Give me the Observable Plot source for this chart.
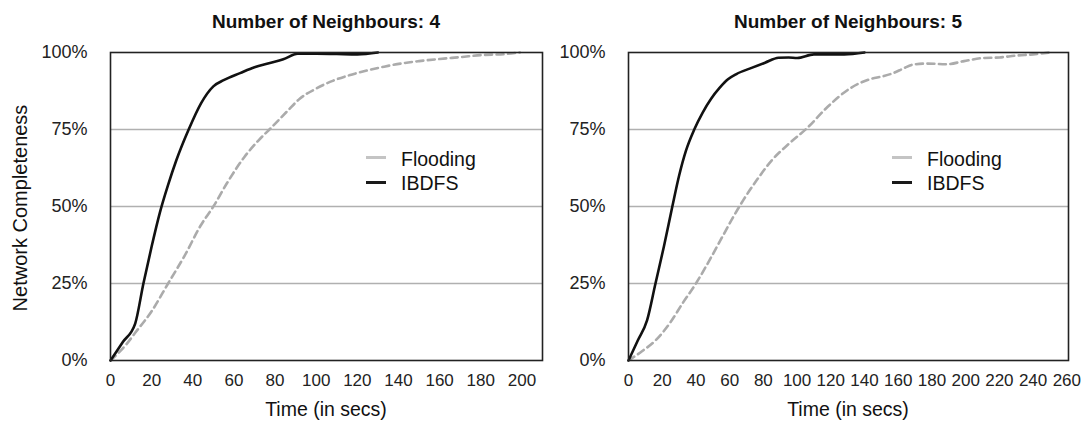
<!DOCTYPE html>
<html>
<head>
<meta charset="utf-8">
<script src="https://cdn.jsdelivr.net/npm/d3@7"></script>
<script src="https://cdn.jsdelivr.net/npm/@observablehq/plot@0.6"></script>
<style>
  html, body { margin: 0; padding: 0; background: #fff; }
  #wrap { position: relative; width: 1089px; height: 423px; font-family: "Liberation Sans", Arial, Helvetica, sans-serif; color: #111; }
  .abs { position: absolute; white-space: nowrap; }
  .title { font-weight: bold; font-size: 19px; line-height: 19px; text-align: center; width: 400px; }
  .xlab { font-size: 19.5px; line-height: 19.5px; text-align: center; width: 400px; }
  .ylab { font-size: 20px; line-height: 24px; height: 24px; text-align: center; width: 300px; transform: rotate(-90deg); }
  .legtext { font-size: 19.5px; line-height: 19.5px; }
  .sw { height: 3px; width: 20px; }
</style>
</head>
<body>
<div id="wrap"></div>
<script>
// ---- Data ----
const panelTitles = ["Number of Neighbours: 4", "Number of Neighbours: 5"];
const seriesNames = ["Flooding", "IBDFS"];
const yTicks = [0, 25, 50, 75, 100];
const xTicks4 = [0, 20, 40, 60, 80, 100, 120, 140, 160, 180, 200];
const xTicks5 = [0, 20, 40, 60, 80, 100, 120, 140, 160, 180, 200, 220, 240, 260];
const xMax4 = 210;
const xMax5 = 261;

// Neighbours: 4
const floodT4 = [0, 8, 12, 20, 28, 36, 44, 50, 57, 65, 72, 78, 86, 92, 100, 108, 116, 125, 133, 141, 150, 160, 170, 181, 192, 199];
const floodV4 = [0, 5.5, 9, 16, 25, 34, 44, 50, 58, 66, 71.5, 75.5, 81, 85, 88.3, 90.8, 92.6, 94.2, 95.4, 96.4, 97.2, 97.9, 98.5, 99.2, 99.5, 100];
const ibdfsT4 = [0, 6, 12, 16, 20, 24, 28, 32, 38, 44, 50, 55, 63, 70, 77, 84, 91, 100, 110, 120, 130];
const ibdfsV4 = [0, 6, 12, 25, 37, 48, 57, 65, 75, 83.5, 89, 91, 93.3, 95.2, 96.5, 97.8, 99.6, 99.6, 99.5, 99.4, 100];

// Neighbours: 5
const floodT5 = [0, 8, 16, 25, 32, 40, 48, 56, 62, 68, 76, 85, 95, 106, 118, 131, 143, 151, 157, 163, 169, 177, 189, 199, 210, 220, 230, 240, 250];
const floodV5 = [0, 3, 6.5, 12.5, 18.5, 25, 32.5, 40.5, 46.5, 52, 58.5, 65, 70.3, 75.5, 82.3, 88.2, 91.3, 92.3, 93.3, 94.8, 96.1, 96.4, 96.2, 97.2, 98.2, 98.4, 99, 99.4, 100];
const ibdfsT5 = [0, 5.5, 11, 16, 21, 26, 30, 34, 39, 44, 49, 54, 59, 64, 73, 81, 89, 95, 100, 110, 128, 140];
const ibdfsV5 = [0, 6.5, 13, 25, 37, 50, 60, 68, 75, 80.5, 85, 88.5, 91.3, 93, 95, 96.7, 98.3, 98.4, 98.2, 99.4, 99.4, 100];

const toRows = (ts, vs) => ts.map((t, i) => ({t, v: vs[i]}));

const panels = [
  {title: panelTitles[0], flood: toRows(floodT4, floodV4), ibdfs: toRows(ibdfsT4, ibdfsV4), xTicks: xTicks4, xMax: xMax4,
   left: 0, width: 545, marginLeft: 110, marginRight: 3},
  {title: panelTitles[1], flood: toRows(floodT5, floodV5), ibdfs: toRows(ibdfsT5, ibdfsV5), xTicks: xTicks5, xMax: xMax5,
   left: 545, width: 544, marginLeft: 83, marginRight: 21}
];

const H = 423, MT = 52, MB = 63;
const wrap = document.getElementById("wrap");

function add(cls, text, css) {
  const d = document.createElement("div");
  d.className = "abs " + cls;
  if (text != null) d.textContent = text;
  Object.assign(d.style, css);
  wrap.appendChild(d);
  return d;
}

panels.forEach((p, idx) => {
  const chart = Plot.plot({
    width: p.width,
    height: H,
    marginLeft: p.marginLeft,
    marginRight: p.marginRight,
    marginTop: MT,
    marginBottom: MB,
    style: {fontFamily: "'Liberation Sans', Arial, Helvetica, sans-serif", color: "#222", background: "transparent", overflow: "visible"},
    x: {domain: [0, p.xMax]},
    y: {domain: [0, 100]},
    marks: [
      Plot.ruleY(yTicks.filter(d => d > 0 && d < 100), {stroke: "#b0b0b0", strokeWidth: 1.3}),
      Plot.axisY({ticks: yTicks, tickSize: 0, tickPadding: 23, tickFormat: d => d + "%", label: null, fontSize: 18}),
      Plot.axisX({ticks: p.xTicks, tickSize: 0, tickPadding: 13, tickFormat: d => String(d), label: null, fontSize: 17}),
      Plot.line(p.flood, {x: "t", y: "v", stroke: "#ababab", strokeWidth: 2.6, strokeDasharray: "7,4.5", curve: "monotone-x"}),
      Plot.line(p.ibdfs, {x: "t", y: "v", stroke: "#111", strokeWidth: 2.6, curve: "monotone-x"}),
      Plot.frame({stroke: "#222", strokeWidth: 1.6})
    ]
  });
  chart.style.position = "absolute";
  chart.style.left = p.left + "px";
  chart.style.top = "0px";
  wrap.appendChild(chart);

  const fl = p.left + p.marginLeft;
  const fr = p.left + p.width - p.marginRight;
  const cx = (fl + fr) / 2;

  add("title", p.title, {left: (cx - 200) + "px", top: "11.5px"});
  add("xlab", "Time (in secs)", {left: (cx - 200) + "px", top: "399.5px"});

  // legend
  add("sw", null, {left: (fr - 176) + "px", top: "156px", background: "#c4c4c4"});
  add("sw", null, {left: (fr - 176) + "px", top: "180.5px", background: "#1a1a1a"});
  add("legtext", seriesNames[0], {left: (fr - 141) + "px", top: "150px"});
  add("legtext", seriesNames[1], {left: (fr - 141) + "px", top: "173.5px"});

  if (idx === 0) {
    add("ylab", "Network Completeness", {left: (20 - 150) + "px", top: (207.5 - 12) + "px"});
  }
});
</script>
</body>
</html>
